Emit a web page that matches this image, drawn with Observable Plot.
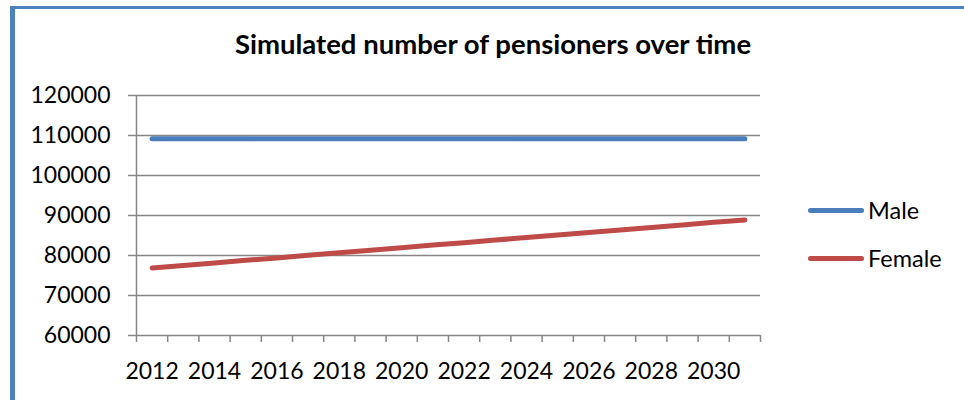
<!DOCTYPE html>
<html>
<head>
<meta charset="utf-8">
<script src="https://cdn.jsdelivr.net/npm/d3@7"></script>
<script src="https://cdn.jsdelivr.net/npm/@observablehq/plot@0.6"></script>
<style>
  html, body { margin: 0; padding: 0; background: #fff; }
  #wrap { position: relative; width: 964px; height: 400px; overflow: hidden; font-family: Lato, "Open Sans", sans-serif; }
  #frame { position: absolute; left: 10px; top: 6px; width: 1000px; height: 500px; border-left: 5px solid #4F81BD; border-top: 3px solid #4F81BD; box-sizing: border-box; }
  #title { position: absolute; top: 27px; left: 493px; transform: translateX(-50%); white-space: nowrap; font-weight: bold; font-size: 27.5px; color: #000; }
  #plot { position: absolute; left: 0; top: 0; }
  .leg { position: absolute; left: 808px; display: flex; align-items: center; font-size: 23.5px; color: #000; }
  .leg span.sw { display: inline-block; width: 56px; height: 5px; border-radius: 3px; margin-right: 4px; }
</style>
</head>
<body>
<div id="wrap">
  <div id="frame"></div>
  <div id="title">Simulated number of pensioners over time</div>
  <div id="plot"></div>
  <div id="legend"></div>
</div>
<script>
const years = [2012, 2013, 2014, 2015, 2016, 2017, 2018, 2019, 2020, 2021,
               2022, 2023, 2024, 2025, 2026, 2027, 2028, 2029, 2030, 2031];
const male = [109200, 109200, 109200, 109200, 109200, 109200, 109200, 109200, 109200, 109200,
              109200, 109200, 109200, 109200, 109200, 109200, 109200, 109200, 109200, 109200];
const female = [76900, 77500, 78150, 78800, 79400, 80050, 80700, 81300, 81950, 82600,
                83200, 83850, 84500, 85150, 85750, 86400, 87000, 87650, 88300, 88900];
const seriesNames = ["Male", "Female"];
const seriesColors = ["#4A7EBB", "#BE4B48"];
const yTicks = [60000, 70000, 80000, 90000, 100000, 110000, 120000];
const xLabels = [2012, 2014, 2016, 2018, 2020, 2022, 2024, 2026, 2028, 2030];

const rows = years.flatMap((yr, i) => [
  {year: yr, value: male[i], series: "Male"},
  {year: yr, value: female[i], series: "Female"}
]);
const xBounds = [years[0] - 0.5, ...years.map(y => y + 0.5)];
const gray = "#868686";

const chart = Plot.plot({
  width: 964,
  height: 400,
  marginLeft: 136,
  marginRight: 204,
  marginTop: 95,
  marginBottom: 65,
  style: {fontFamily: "Lato, 'Open Sans', sans-serif", fontSize: "23px", background: "transparent", color: "#000"},
  x: {type: "linear", domain: [years[0] - 0.5, years[years.length - 1] + 0.5]},
  y: {domain: [60000, 120000]},
  color: {domain: seriesNames, range: seriesColors},
  marks: [
    Plot.gridY(yTicks, {stroke: gray, strokeOpacity: 1, strokeWidth: 1.5}),
    Plot.axisY({ticks: yTicks, tickSize: 8, tickPadding: 18, stroke: gray, strokeWidth: 1.5, fill: "#000", fontSize: 23, tickFormat: d => String(d), label: null}),
    Plot.ruleX([years[0] - 0.5], {stroke: gray, strokeWidth: 1.5}),
    Plot.axisX({ticks: xBounds, tickSize: 7, stroke: gray, strokeWidth: 1.5, tickFormat: () => "", label: null}),
    Plot.axisX({ticks: xLabels, tickSize: 0, tickPadding: 27, fill: "#000", fontSize: 23, tickFormat: d => String(d), label: null}),
    Plot.line(rows, {x: "year", y: "value", z: "series", stroke: "series", strokeWidth: 5, strokeLinecap: "round", strokeLinejoin: "round"})
  ]
});
document.getElementById("plot").appendChild(chart);

const legend = document.getElementById("legend");
const legTops = [196, 244];
seriesNames.forEach((name, i) => {
  const d = document.createElement("div");
  d.className = "leg";
  d.style.top = legTops[i] + "px";
  const sw = document.createElement("span");
  sw.className = "sw";
  sw.style.background = seriesColors[i];
  d.appendChild(sw);
  d.appendChild(document.createTextNode(name));
  legend.appendChild(d);
});
</script>
</body>
</html>
